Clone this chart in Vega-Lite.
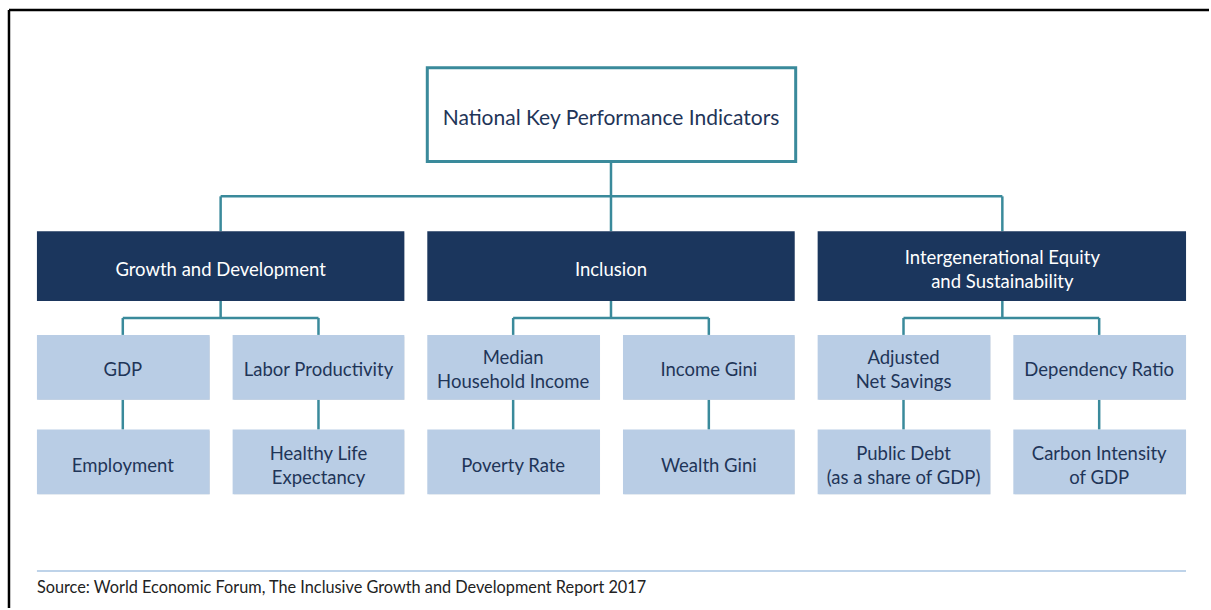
{
  "$schema": "https://vega.github.io/schema/vega-lite/v6.json",
  "width": 1211,
  "height": 610,
  "padding": 0,
  "autosize": {"type": "fit", "contains": "padding"},
  "background": "white",
  "config": {"view": {"stroke": null}, "font": "Lato"},
  "datasets": {
    "boxes": [
      {"label": "National Key Performance Indicators", "level": "top", "x1": 428, "x2": 797, "y1": 68, "y2": 162, "cx": 612, "cy": 117},
      {"label": "Growth and Development", "level": "category", "x1": 37, "x2": 405, "y1": 232, "y2": 302, "cx": 221, "cy": 269},
      {"label": "Inclusion", "level": "category", "x1": 428, "x2": 796, "y1": 232, "y2": 302, "cx": 612, "cy": 269},
      {"label": "Intergenerational Equity\nand Sustainability", "level": "category", "x1": 819, "x2": 1188, "y1": 232, "y2": 302, "cx": 1004, "cy": 269},
      {"label": "GDP", "level": "indicator", "x1": 37, "x2": 210, "y1": 336, "y2": 401, "cx": 123, "cy": 370},
      {"label": "Labor Productivity", "level": "indicator", "x1": 233, "x2": 405, "y1": 336, "y2": 401, "cx": 319, "cy": 370},
      {"label": "Median\nHousehold Income", "level": "indicator", "x1": 428, "x2": 601, "y1": 336, "y2": 401, "cx": 514, "cy": 370},
      {"label": "Income Gini", "level": "indicator", "x1": 624, "x2": 796, "y1": 336, "y2": 401, "cx": 710, "cy": 370},
      {"label": "Adjusted\nNet Savings", "level": "indicator", "x1": 819, "x2": 992, "y1": 336, "y2": 401, "cx": 905, "cy": 370},
      {"label": "Dependency Ratio", "level": "indicator", "x1": 1015, "x2": 1188, "y1": 336, "y2": 401, "cx": 1101, "cy": 370},
      {"label": "Employment", "level": "indicator", "x1": 37, "x2": 210, "y1": 431, "y2": 496, "cx": 123, "cy": 466},
      {"label": "Healthy Life\nExpectancy", "level": "indicator", "x1": 233, "x2": 405, "y1": 431, "y2": 496, "cx": 319, "cy": 466},
      {"label": "Poverty Rate", "level": "indicator", "x1": 428, "x2": 601, "y1": 431, "y2": 496, "cx": 514, "cy": 466},
      {"label": "Wealth Gini", "level": "indicator", "x1": 624, "x2": 796, "y1": 431, "y2": 496, "cx": 710, "cy": 466},
      {"label": "Public Debt\n(as a share of GDP)", "level": "indicator", "x1": 819, "x2": 992, "y1": 431, "y2": 496, "cx": 905, "cy": 466},
      {"label": "Carbon Intensity\nof GDP", "level": "indicator", "x1": 1015, "x2": 1188, "y1": 431, "y2": 496, "cx": 1101, "cy": 466}
    ],
    "links": [
      {"x1": 612, "y1": 162, "x2": 612, "y2": 232},
      {"x1": 221, "y1": 197, "x2": 1004, "y2": 197},
      {"x1": 221, "y1": 197, "x2": 221, "y2": 232},
      {"x1": 1004, "y1": 197, "x2": 1004, "y2": 232},
      {"x1": 221, "y1": 302, "x2": 221, "y2": 319},
      {"x1": 123, "y1": 319, "x2": 319, "y2": 319},
      {"x1": 123, "y1": 319, "x2": 123, "y2": 336},
      {"x1": 319, "y1": 319, "x2": 319, "y2": 336},
      {"x1": 612, "y1": 302, "x2": 612, "y2": 319},
      {"x1": 514, "y1": 319, "x2": 710, "y2": 319},
      {"x1": 514, "y1": 319, "x2": 514, "y2": 336},
      {"x1": 710, "y1": 319, "x2": 710, "y2": 336},
      {"x1": 1004, "y1": 302, "x2": 1004, "y2": 319},
      {"x1": 905, "y1": 319, "x2": 1101, "y2": 319},
      {"x1": 905, "y1": 319, "x2": 905, "y2": 336},
      {"x1": 1101, "y1": 319, "x2": 1101, "y2": 336},
      {"x1": 123, "y1": 401, "x2": 123, "y2": 431},
      {"x1": 319, "y1": 401, "x2": 319, "y2": 431},
      {"x1": 514, "y1": 401, "x2": 514, "y2": 431},
      {"x1": 710, "y1": 401, "x2": 710, "y2": 431},
      {"x1": 905, "y1": 401, "x2": 905, "y2": 431},
      {"x1": 1101, "y1": 401, "x2": 1101, "y2": 431}
    ],
    "frame": [
      {"x1": 9, "y1": 10, "x2": 1211, "y2": 10},
      {"x1": 9, "y1": 10, "x2": 9, "y2": 610}
    ],
    "footer": [
      {"x1": 37, "y1": 573, "x2": 1188, "y2": 573, "label": "Source: World Economic Forum, The Inclusive Growth and Development Report 2017", "tx": 37, "ty": 590}
    ]
  },
  "layer": [
    {
      "data": {"name": "frame"},
      "mark": {"type": "rule", "color": "#000000", "strokeWidth": 2.5},
      "encoding": {
        "x": {"field": "x1", "type": "quantitative", "scale": {"domain": [0, 1211], "nice": false, "zero": false}, "axis": null},
        "y": {"field": "y1", "type": "quantitative", "scale": {"domain": [0, 610], "nice": false, "zero": false, "reverse": true}, "axis": null},
        "x2": {"field": "x2"},
        "y2": {"field": "y2"}
      }
    },
    {
      "data": {"name": "links"},
      "mark": {"type": "rule", "color": "#3a8a9b", "strokeWidth": 2.5},
      "encoding": {
        "x": {"field": "x1", "type": "quantitative"},
        "y": {"field": "y1", "type": "quantitative"},
        "x2": {"field": "x2"},
        "y2": {"field": "y2"}
      }
    },
    {
      "data": {"name": "boxes"},
      "mark": {"type": "rect", "color": "#a8a8a8", "opacity": 0.5, "xOffset": 1.5, "yOffset": 1.5},
      "encoding": {
        "x": {"field": "x1", "type": "quantitative"},
        "x2": {"field": "x2"},
        "y": {"field": "y1", "type": "quantitative"},
        "y2": {"field": "y2"}
      }
    },
    {
      "data": {"name": "boxes"},
      "transform": [{"filter": "datum.level !== 'top'"}],
      "mark": {"type": "rect"},
      "encoding": {
        "x": {"field": "x1", "type": "quantitative"},
        "x2": {"field": "x2"},
        "y": {"field": "y1", "type": "quantitative"},
        "y2": {"field": "y2"},
        "fill": {"field": "level", "type": "nominal", "scale": {"domain": ["top", "category", "indicator"], "range": ["#ffffff", "#1b365d", "#b9cde5"]}, "legend": null}
      }
    },
    {
      "data": {"name": "boxes"},
      "transform": [{"filter": "datum.level === 'top'"}],
      "mark": {"type": "rect", "fill": "#ffffff", "stroke": "#3a8a9b", "strokeWidth": 3},
      "encoding": {
        "x": {"field": "x1", "type": "quantitative"},
        "x2": {"field": "x2"},
        "y": {"field": "y1", "type": "quantitative"},
        "y2": {"field": "y2"}
      }
    },
    {
      "data": {"name": "boxes"},
      "transform": [{"filter": "datum.level === 'top'"}],
      "mark": {"type": "text", "align": "center", "baseline": "middle", "fontSize": 21, "font": "Lato", "dy": 2},
      "encoding": {
        "x": {"field": "cx", "type": "quantitative"},
        "y": {"field": "cy", "type": "quantitative"},
        "text": {"field": "label", "type": "nominal"},
        "color": {"value": "#1f3558"}
      }
    },
    {
      "data": {"name": "boxes"},
      "transform": [{"filter": "datum.level !== 'top' && indexof(datum.label, '\\n') < 0"}],
      "mark": {"type": "text", "align": "center", "baseline": "middle", "fontSize": 18.5, "font": "Lato", "dy": 1.5},
      "encoding": {
        "x": {"field": "cx", "type": "quantitative"},
        "y": {"field": "cy", "type": "quantitative"},
        "text": {"field": "label", "type": "nominal"},
        "color": {"field": "level", "type": "nominal", "scale": {"domain": ["category", "indicator"], "range": ["#ffffff", "#1f3558"]}, "legend": null}
      }
    },
    {
      "data": {"name": "boxes"},
      "transform": [{"filter": "datum.level !== 'top' && indexof(datum.label, '\\n') >= 0"}],
      "mark": {"type": "text", "align": "center", "baseline": "middle", "fontSize": 18.5, "font": "Lato", "lineBreak": "\n", "lineHeight": 24, "dy": -10.5},
      "encoding": {
        "x": {"field": "cx", "type": "quantitative"},
        "y": {"field": "cy", "type": "quantitative"},
        "text": {"field": "label", "type": "nominal"},
        "color": {"field": "level", "type": "nominal", "scale": {"domain": ["category", "indicator"], "range": ["#ffffff", "#1f3558"]}, "legend": null}
      }
    },
    {
      "data": {"name": "footer"},
      "mark": {"type": "rule", "color": "#a9c4e2", "strokeWidth": 1.5},
      "encoding": {
        "x": {"field": "x1", "type": "quantitative"},
        "y": {"field": "y1", "type": "quantitative"},
        "x2": {"field": "x2"},
        "y2": {"field": "y2"}
      }
    },
    {
      "data": {"name": "footer"},
      "mark": {"type": "text", "align": "left", "baseline": "middle", "fontSize": 16.3, "font": "Lato", "color": "#222222"},
      "encoding": {
        "x": {"field": "tx", "type": "quantitative"},
        "y": {"field": "ty", "type": "quantitative"},
        "text": {"field": "label", "type": "nominal"}
      }
    }
  ]
}
